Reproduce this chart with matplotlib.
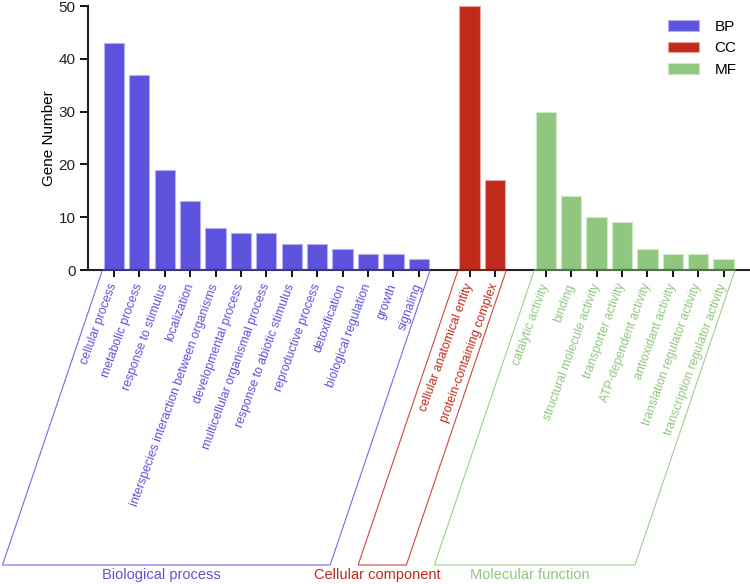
import matplotlib
matplotlib.use("Agg")
import matplotlib.pyplot as plt
from matplotlib.patches import Polygon, Patch
from matplotlib.transforms import IdentityTransform

plt.rcParams['font.family'] = ['Liberation Sans', 'DejaVu Sans']

bp_terms = ["cellular process", "metabolic process", "response to stimulus", "localization",
            "interspecies interaction between organisms", "developmental process",
            "multicellular organismal process", "response to abiotic stimulus",
            "reproductive process", "detoxification", "biological regulation", "growth", "signaling"]
bp_values = [43, 37, 19, 13, 8, 7, 7, 5, 5, 4, 3, 3, 2]
cc_terms = ["cellular anatomical entity", "protein-containing complex"]
cc_values = [50, 17]
mf_terms = ["catalytic activity", "binding", "structural molecule activity", "transporter activity",
            "ATP-dependent activity", "antioxidant activity", "translation regulator activity",
            "transcription regulator activity"]
mf_values = [30, 14, 10, 9, 4, 3, 3, 2]
groups = ["BP", "CC", "MF"]
group_names = ["Biological process", "Cellular component", "Molecular function"]
y_ticks = [0, 10, 20, 30, 40, 50]

colors = {"BP": "#5C52DC", "CC": "#BF2A1B", "MF": "#8FC77F"}
edge = {"BP": "#B4AEF2", "CC": "#E8A49C", "MF": "#CDE8C4"}

W, H = 750, 584
fig = plt.figure(figsize=(7.5, 5.84), dpi=100)
ax = fig.add_axes([88 / W, 1 - 270 / H, 1 - 88 / W, (270 - 6) / H])

data = [("BP", bp_terms, bp_values), ("CC", cc_terms, cc_values), ("MF", mf_terms, mf_values)]
pos = 0
all_pos, all_labels, all_cols = [], [], []
group_ranges = []
for g, terms, vals in data:
    xs = list(range(pos, pos + len(terms)))
    ax.bar(xs, vals, width=0.8, color=colors[g], edgecolor=edge[g], linewidth=0.8, label=g, zorder=2)
    all_pos += xs
    all_labels += terms
    all_cols += [colors[g]] * len(terms)
    group_ranges.append((xs[0], xs[-1]))
    pos = xs[-1] + 2

ax.set_xlim(-1.02, 25.04)
ax.set_ylim(0, 50)
ax.set_yticks(y_ticks)
ax.set_xticks(all_pos)
ax.set_xticklabels(all_labels, rotation=70, ha='right', va='center', rotation_mode='anchor', fontsize=8.8)
for lab, c in zip(ax.get_xticklabels(), all_cols):
    lab.set_color(c)
ax.tick_params(axis='x', length=5, width=1.3, pad=5)
ax.tick_params(axis='y', length=6, width=1.3, labelsize=11, pad=3, colors='black')
ax.tick_params(axis='y', labelcolor='#222222')
for s in ['top', 'right']:
    ax.spines[s].set_visible(False)
for s in ['left', 'bottom']:
    ax.spines[s].set_linewidth(1.5)
    ax.spines[s].set_color('#222222')
ax.set_ylabel("Gene Number", fontsize=11, labelpad=2)

leg = ax.legend(loc='upper right', frameon=False, fontsize=11, handlelength=2.0, handleheight=0.7,
                bbox_to_anchor=(1.0, 1.0), labelspacing=0.5, handletextpad=1.0)

# group brackets (parallelograms) below the tick labels
dx_off, dy_off = -100, -295
for (g, (a, b)), name in zip(zip(groups, group_ranges), group_names):
    xl = ax.transData.transform((a - 0.45, 0))
    xr = ax.transData.transform((b + 0.45, 0))
    pts = [(xl[0], xl[1]), (xr[0], xr[1]), (xr[0] + dx_off, xr[1] + dy_off), (xl[0] + dx_off, xl[1] + dy_off)]
    poly = Polygon(pts, closed=True, fill=False, edgecolor=colors[g], linewidth=0.8,
                   transform=IdentityTransform(), clip_on=False, alpha=0.85)
    fig.add_artist(poly)
    cx = (pts[2][0] + pts[3][0]) / 2 - 5
    fig.text(cx / W, (H - 575) / H, name, color=colors[g], fontsize=10.5, ha='center', va='center')

fig.savefig("out.png", dpi=100)
